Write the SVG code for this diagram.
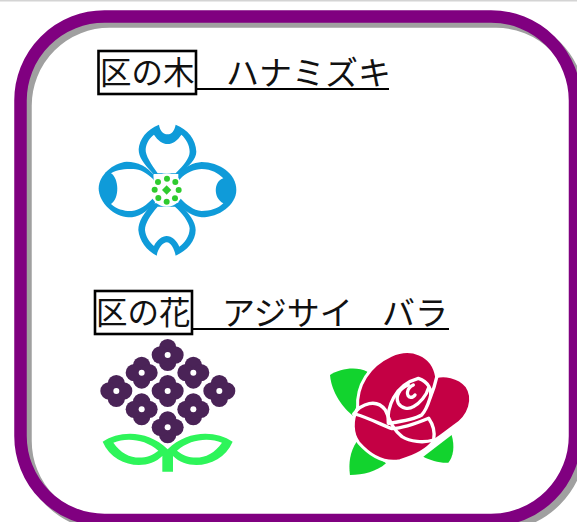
<svg xmlns="http://www.w3.org/2000/svg" width="577" height="522" viewBox="0 0 577 522">
<style>
.t{font-family:"Noto Sans CJK JP","Noto Sans",sans-serif;font-size:33px;font-weight:400;fill:#111}
.b{font-size:31.500px}
.box{fill:none;stroke:#000;stroke-width:2.600}
.ul{stroke:#000;stroke-width:2.200}
.blue{fill:#0f9bd9}
.w{fill:#fff}
.dot{fill:#2ecb2e}
.leafg{fill:#12d32e}
.rl{fill:none;stroke:#fff;stroke-width:10;stroke-linecap:round;stroke-linejoin:round}
</style>
<defs>
<g id="fl"><circle cx="0" cy="-22" r="26"/><circle cx="0" cy="22" r="26"/><circle cx="-22" cy="0" r="26"/><circle cx="22" cy="0" r="26"/><circle r="9" fill="#fff"/></g>
</defs>
<rect width="577" height="522" fill="#fff"/>
<rect x="0" y="0" width="577" height="1.5" fill="#d4d4d4"/>
<rect id="shadow" x="25.500" y="21.500" width="554.500" height="503.500" rx="84" fill="#fff" stroke="#a0a0a0" stroke-width="12.500"/>
<rect id="frame" x="20.500" y="16.500" width="554.500" height="503.500" rx="84" fill="none" stroke="#800080" stroke-width="12.500"/>

<g id="heading-tree">
<rect class="box" x="98.500" y="51" width="97.500" height="43"/>
<line class="ul" x1="196" y1="89" x2="389" y2="89"/>
<text class="t b" x="100" y="84">区の木</text>
<text class="t" x="226" y="85">ハナミズキ</text>
</g>

<g id="heading-flower">
<rect class="box" x="95" y="291" width="97" height="43"/>
<line class="ul" x1="192" y1="329" x2="449" y2="329"/>
<text class="t b" x="96" y="324">区の花</text>
<text class="t" x="222" y="325">アジサイ</text>
<text class="t" x="382" y="325">バラ</text>
</g>

<g id="dogwood" transform="translate(85,110) scale(.3333)">
<path class="blue" d="M205 192C175 160 161 142 161 118C163 88 185 58 222 44C225 63 235 73 248 73C260 73 268 63 272 44C308 58 333 88 334 125C334 148 312 168 282 192Z"/>
<path class="w" d="M218 190C198 162 181 137 182 118C184 98 194 84 207 74C218 92 234 102 248 102C262 102 278 92 289 74C303 86 314 105 314 125C314 145 296 165 272 190Z"/>
<path class="blue" d="M205 193C185 170 160 155 125 155C85 158 41 195 41 235C41 280 90 322 130 322C160 322 187 305 210 278Z"/>
<path class="w" d="M205 208C185 188 165 177 145 177C120 177 96 178 78 190C102 205 105 265 78 282C95 298 120 304 140 303C165 300 185 285 205 264Z"/>
<path class="blue" d="M280 190C300 170 325 158 350 156C402 156 454 190 454 240C454 285 402 322 350 322C325 320 300 305 280 280Z"/>
<path class="w" d="M285 208C300 188 330 177 350 177C380 177 400 190 415 205C385 215 385 265 415 280C400 296 375 303 350 303C325 301 305 285 285 264Z"/>
<path class="blue" d="M205 280C175 310 160 335 160 360C163 392 185 422 215 437C220 412 235 397 245 397C258 397 268 417 272 437C307 422 332 392 332 360C332 335 312 310 282 278Z"/>
<path class="w" d="M218 290C196 315 180 340 180 360C182 380 193 396 207 408C215 390 232 378 245 378C260 378 276 392 283 410C298 400 314 380 314 355C312 335 292 310 270 290Z"/>
<circle class="w" cx="245" cy="240" r="50"/>
<g class="dot"><circle cx="219" cy="216" r="9"/><circle cx="246" cy="206" r="9"/><circle cx="271" cy="216" r="9"/><circle cx="281" cy="240" r="9"/><circle cx="270" cy="265" r="9"/><circle cx="245" cy="275" r="9"/><circle cx="220" cy="264" r="9"/><circle cx="209" cy="239" r="9"/><path d="M245 226L259 240L245 254L231 240Z"/></g>
</g>

<g id="hydrangea" transform="translate(90,330) scale(.3333)">
<g fill="#4a2357">
<use href="#fl" x="233" y="75"/><use href="#fl" x="155" y="128"/><use href="#fl" x="310" y="128"/><use href="#fl" x="79" y="183"/><use href="#fl" x="233" y="183"/><use href="#fl" x="388" y="183"/><use href="#fl" x="155" y="238"/><use href="#fl" x="310" y="238"/><use href="#fl" x="233" y="292"/>
</g>
<path fill="#2ef55a" d="M38 335C90 300 175 300 233 358C291 300 376 300 428 335C396 410 296 425 249 378V425H217V378C170 425 70 410 38 335Z"/>
<path class="w" d="M70 338C110 322 165 327 205 362C165 395 105 390 70 338ZM396 338C356 322 301 327 261 362C301 395 361 390 396 338Z"/>
</g>

<g id="rose" transform="translate(320,340) scale(.3333)">
<path class="leafg" d="M30 105C60 85 110 78 142 95L100 228C70 205 35 160 30 105Z"/>
<path class="leafg" d="M110 305L198 370C170 395 130 405 90 405C85 370 90 335 110 305Z"/>
<path class="leafg" d="M395 285C405 320 400 350 385 368C360 370 330 360 310 350Z"/>
<path fill="#c40044" stroke="#fff" stroke-width="9" d="M113 205C108 135 148 76 213 46C270 20 338 40 350 110C370 103 415 108 440 138C465 175 450 228 403 258C383 273 358 293 342 302C322 330 282 350 240 362C188 372 148 344 116 308C96 282 94 240 113 205Z"/>
<path class="rl" d="M101 222C125 190 170 175 196 210C210 240 215 265 246 290C270 305 310 310 341 300"/>
<path class="rl" d="M105 222C150 235 185 255 216 266C250 265 290 250 326 235C340 255 345 280 341 300"/>
<path class="rl" d="M205 250C200 205 222 135 295 115C325 125 338 150 330 175C322 200 315 215 305 225C280 240 240 245 205 250ZM330 175C338 155 345 135 350 112"/>
<path class="rl" d="M265 135C238 145 225 170 235 190C245 205 265 210 280 200C300 190 320 165 325 145"/>
<path class="rl" d="M280 135C258 145 258 170 272 172C278 172 283 168 285 165"/>
</g>
</svg>
